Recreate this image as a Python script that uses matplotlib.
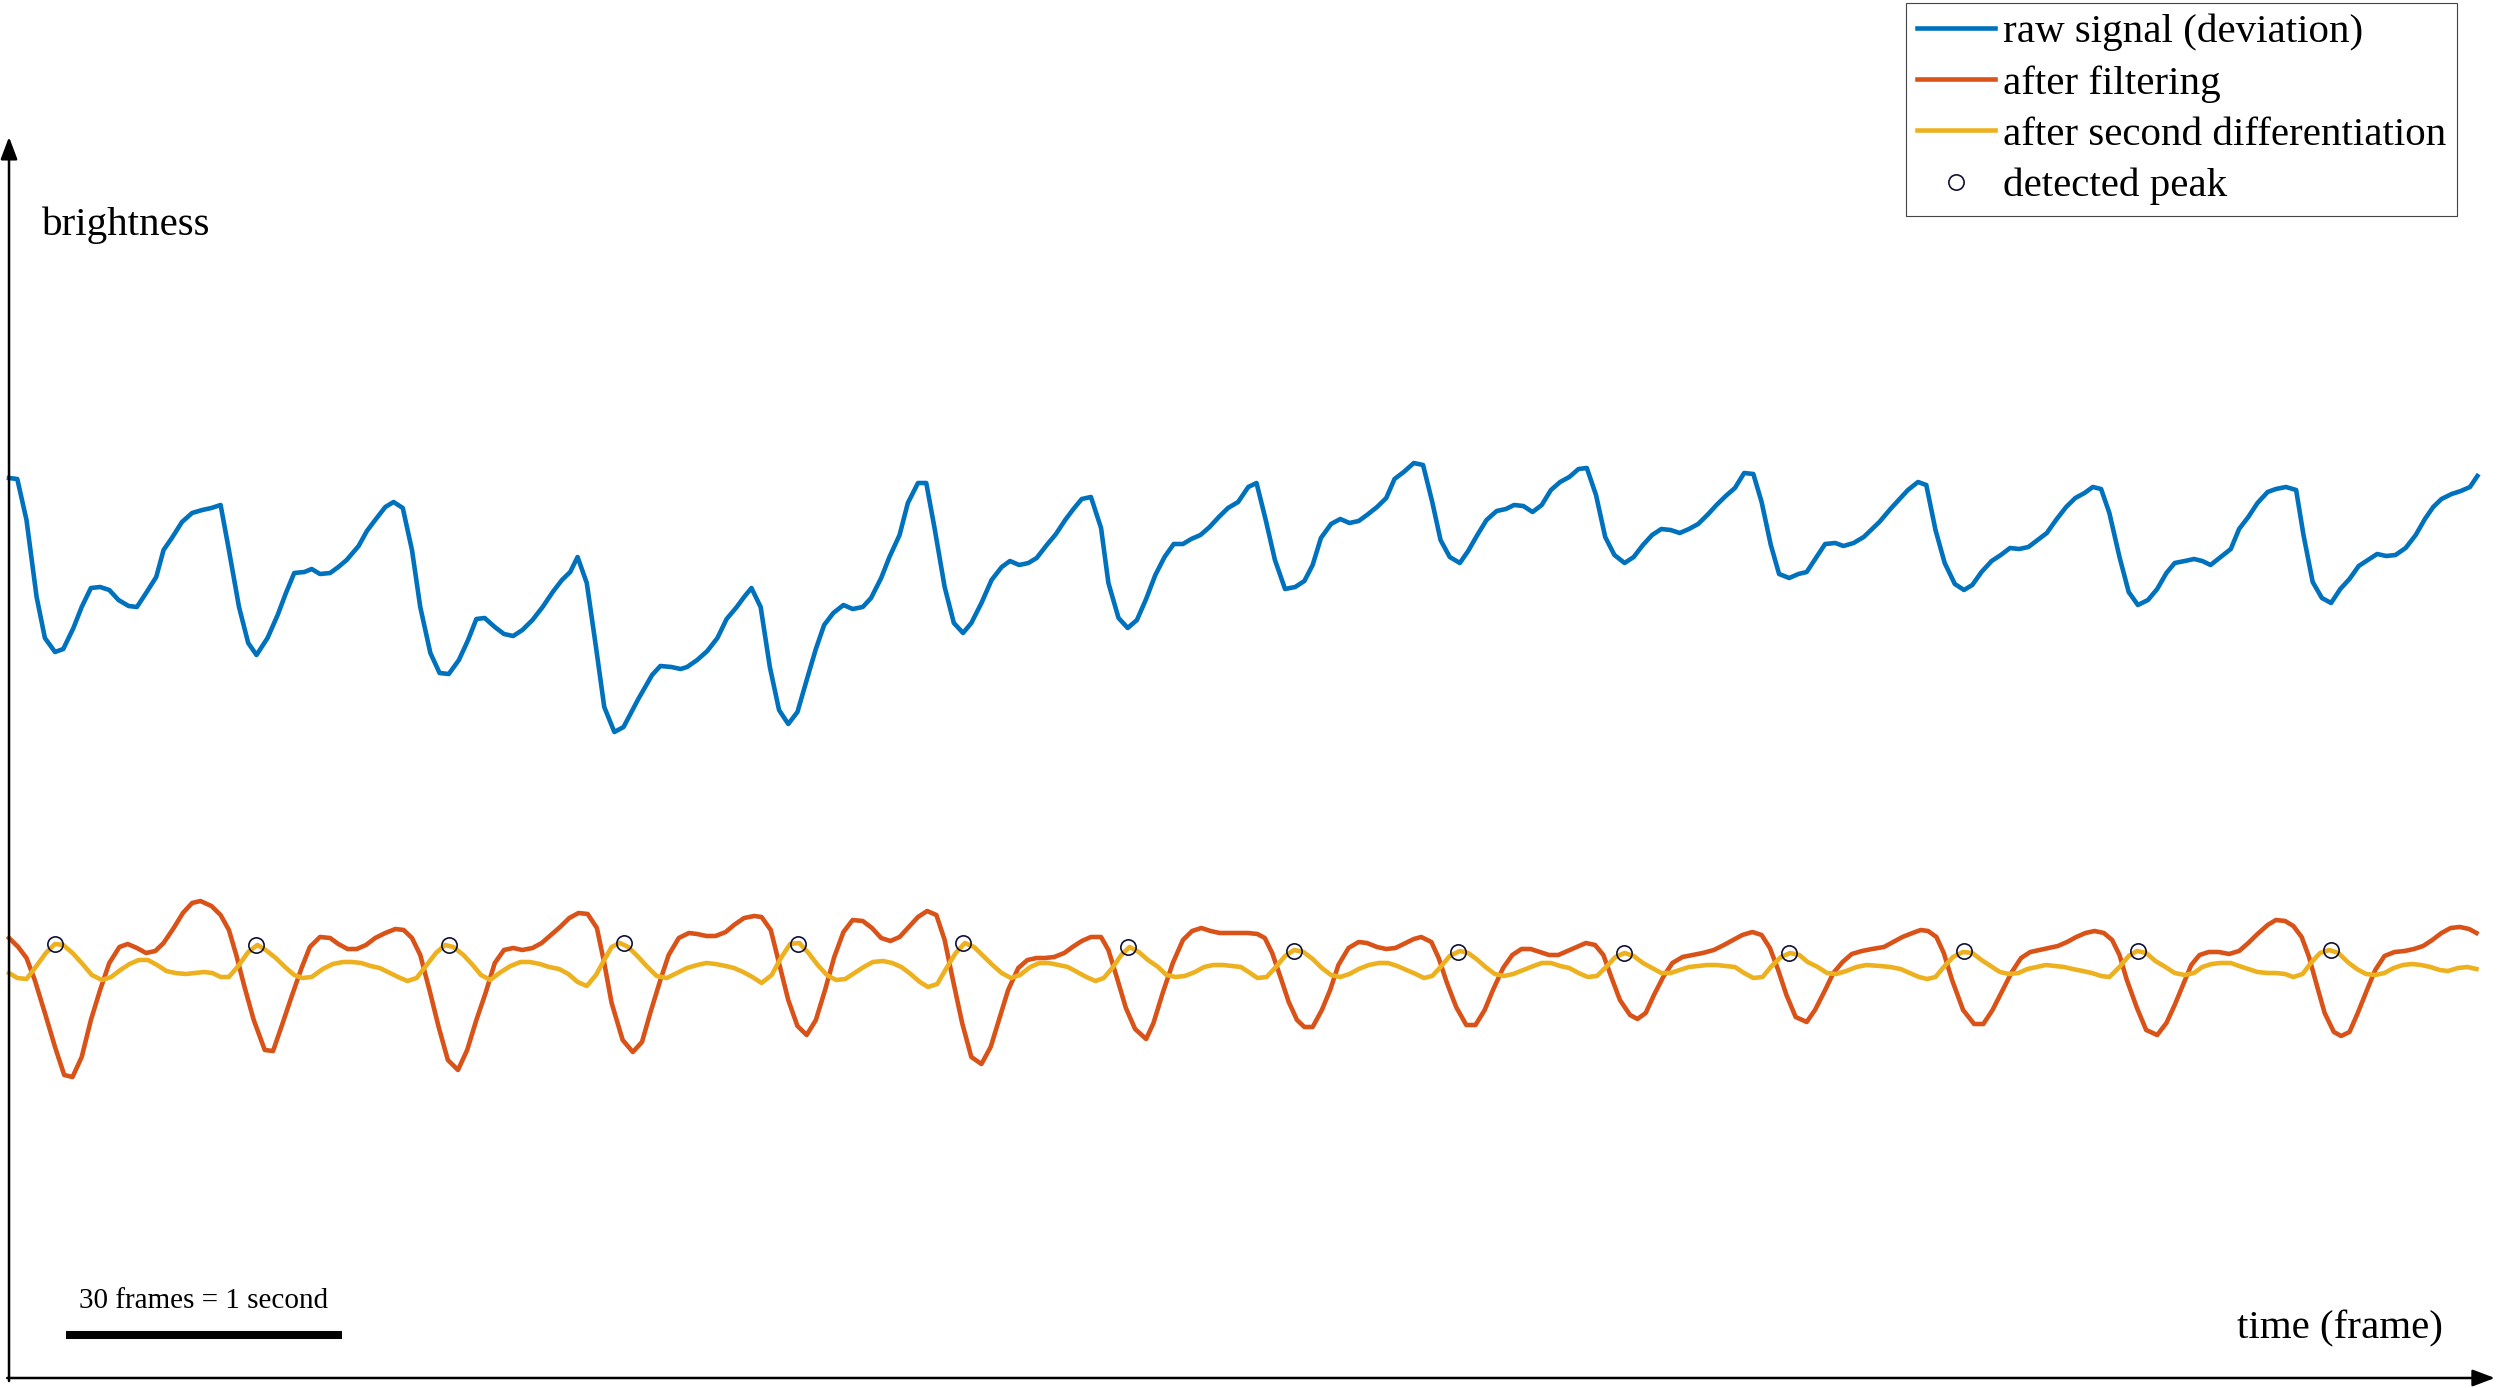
import numpy as np
import matplotlib.pyplot as plt

plt.rcParams['font.family'] = ['Liberation Serif', 'DejaVu Serif']

# frames (x) and brightness (y, arbitrary units)
raw_x = [0.0, 0.9, 1.9, 3.0, 3.9, 5.0, 5.9, 7.0, 7.9, 8.9, 9.9, 10.9, 11.9, 13.0, 13.9, 14.9, 16.0, 16.8, 17.7, 18.8,
         19.9, 21.0, 22.0, 23.0, 23.9, 25.0, 26.0, 26.9, 28.1, 29.2, 30.1, 31.0, 32.1, 32.9, 33.8, 34.9, 35.8, 36.7,
         38.0, 38.9, 39.8, 40.9, 41.8, 42.8, 43.8, 44.7, 45.8, 46.8, 47.8, 48.9, 49.9, 50.8, 51.7, 52.8, 53.8, 54.8,
         55.8, 56.9, 58.0, 59.1, 60.1, 61.0, 61.8, 62.8, 63.8, 64.7, 65.8, 66.8, 68.4, 69.9, 70.8, 72.0, 73.0, 73.7,
         74.8, 75.9, 77.0, 78.0, 79.1, 79.9, 80.7, 81.7, 82.7, 83.7, 84.7, 85.7, 86.8, 87.7, 88.6, 89.6, 90.7, 91.7,
         92.8, 93.7, 94.8, 95.7, 96.8, 97.7, 98.8, 99.7, 100.6, 101.7, 102.7, 103.7, 104.6, 105.7, 106.8, 107.9,
         108.8, 109.8, 110.8, 111.7, 112.8, 113.8, 114.8, 115.7, 116.6, 117.6, 118.7, 119.5, 120.6, 121.6, 122.6,
         123.6, 124.6, 125.6, 126.6, 127.6, 128.5, 129.5, 130.5, 131.5, 132.5, 133.6, 134.7, 135.6, 136.6, 137.6,
         138.7, 139.8, 140.8, 141.7, 142.6, 143.7, 144.7, 145.7, 146.7, 147.6, 148.7, 149.7, 150.6, 151.6, 152.7,
         153.7, 154.7, 155.6, 156.6, 157.7, 158.6, 159.6, 160.6, 161.7, 162.7, 163.6, 164.6, 165.6, 166.6, 167.6,
         168.6, 169.6, 170.6, 171.5, 172.5, 173.5, 174.5, 175.6, 176.6, 177.6, 178.6, 179.6, 180.6, 181.6, 182.6,
         183.6, 184.6, 185.6, 186.6, 187.6, 188.6, 189.6, 190.5, 191.5, 192.4, 193.5, 194.5, 195.4, 196.4, 197.4,
         198.5, 199.4, 200.5, 201.6, 203.3, 204.5, 205.5, 206.4, 207.5, 208.4, 209.4, 210.4, 211.5, 212.5, 213.4,
         214.4, 215.5, 216.5, 217.5, 218.5, 219.5, 220.5, 221.5, 222.5, 223.6, 224.6, 225.6, 226.5, 227.4, 228.3,
         229.4, 230.4, 231.4, 232.5, 233.5, 234.5, 235.4, 236.5, 237.5, 238.4, 239.3, 240.4, 241.5, 242.4, 243.4,
         244.4, 245.5, 246.4, 247.5, 248.6, 249.4, 250.4, 251.4, 252.4, 253.4, 254.4, 255.4, 256.4, 257.4, 258.4,
         259.4, 260.5, 261.6, 262.6, 263.5, 264.4, 265.5, 266.5, 267.5, 268.3]
raw_y = [90.1, 90.0, 85.9, 78.2, 74.1, 72.7, 73.0, 75.1, 77.2, 79.1, 79.2, 78.9, 77.9, 77.3, 77.2, 78.6, 80.2, 82.9,
         84.1, 85.7, 86.6, 86.9, 87.1, 87.4, 82.9, 77.2, 73.6, 72.4, 74.1, 76.4, 78.6, 80.6, 80.7, 81.0, 80.5, 80.6,
         81.2, 81.9, 83.3, 84.8, 85.9, 87.2, 87.7, 87.1, 82.9, 77.2, 72.6, 70.6, 70.5, 71.9, 73.9, 76.0, 76.1, 75.2,
         74.5, 74.3, 74.9, 75.9, 77.2, 78.7, 79.9, 80.7, 82.2, 79.6, 73.2, 67.2, 64.7, 65.2, 68.0, 70.4, 71.3, 71.2,
         71.0, 71.2, 71.9, 72.8, 74.1, 76.0, 77.2, 78.2, 79.1, 77.2, 71.2, 66.9, 65.5, 66.7, 70.2, 73.0, 75.4, 76.6,
         77.4, 77.0, 77.2, 78.1, 80.1, 82.2, 84.4, 87.6, 89.6, 89.6, 85.1, 79.2, 75.6, 74.6, 75.6, 77.6, 79.9, 81.2,
         81.8, 81.4, 81.6, 82.1, 83.4, 84.5, 85.9, 87.0, 88.0, 88.2, 85.1, 79.6, 76.1, 75.1, 75.9, 78.0, 80.4, 82.2,
         83.5, 83.5, 84.0, 84.4, 85.2, 86.2, 87.1, 87.7, 89.2, 89.6, 85.9, 81.9, 79.0, 79.2, 79.8, 81.4, 84.1, 85.5,
         86.0, 85.6, 85.8, 86.4, 87.2, 88.1, 90.0, 90.7, 91.6, 91.4, 87.7, 83.9, 82.2, 81.6, 82.8, 84.4, 85.9, 86.8,
         87.0, 87.4, 87.3, 86.7, 87.4, 88.9, 89.7, 90.2, 91.0, 91.1, 88.4, 84.2, 82.4, 81.6, 82.2, 83.4, 84.4, 85.0,
         84.9, 84.6, 85.0, 85.5, 86.4, 87.4, 88.3, 89.1, 90.6, 90.5, 87.7, 83.4, 80.5, 80.1, 80.5, 80.7, 82.1, 83.5,
         83.6, 83.3, 83.6, 84.2, 85.7, 87.0, 88.0, 88.9, 89.7, 89.4, 84.9, 81.6, 79.5, 78.9, 79.4, 80.7, 81.8, 82.4,
         83.1, 83.0, 83.2, 83.9, 84.6, 85.9, 87.2, 88.1, 88.6, 89.2, 89.0, 86.6, 82.2, 78.7, 77.4, 77.9, 79.0, 80.6,
         81.6, 81.8, 82.0, 81.8, 81.4, 82.2, 83.0, 85.0, 86.2, 87.6, 88.7, 89.0, 89.2, 88.9, 84.4, 79.7, 78.1, 77.6,
         79.0, 80.0, 81.3, 81.9, 82.5, 82.3, 82.4, 83.1, 84.4, 86.0, 87.2, 88.0, 88.5, 88.8, 89.2, 90.3]

filt_x = [0.0, 1.0, 1.9, 2.8, 3.9, 5.0, 6.0, 6.9, 7.9, 8.9, 9.9, 10.9, 12.0, 12.9, 13.9, 14.9, 15.9, 16.8, 17.9, 18.9,
          19.9, 20.8, 22.0, 23.0, 23.9, 24.7, 25.6, 26.6, 27.8, 28.7, 29.6, 30.7, 31.8, 32.7, 33.8, 34.9, 35.8, 36.8,
          37.8, 38.8, 39.8, 40.9, 42.0, 42.9, 43.8, 44.7, 45.7, 46.7, 47.7, 48.8, 49.8, 50.8, 51.8, 52.8, 53.8, 54.8,
          55.8, 56.9, 57.9, 58.9, 59.9, 60.9, 61.9, 62.9, 63.9, 64.7, 65.5, 66.7, 67.8, 68.8, 69.7, 70.8, 71.7, 72.8,
          73.9, 74.8, 75.8, 76.8, 77.9, 78.8, 79.9, 81.0, 81.8, 82.8, 83.7, 84.7, 85.7, 86.7, 87.7, 88.7, 89.7, 90.7,
          91.7, 92.8, 93.8, 94.8, 95.8, 96.8, 97.8, 98.8, 99.8, 100.8, 101.7, 102.6, 103.6, 104.6, 105.7, 106.7,
          107.7, 108.6, 109.7, 110.7, 111.7, 112.6, 113.6, 114.7, 115.6, 116.6, 117.6, 118.7, 119.5, 120.4, 121.4,
          122.4, 123.6, 124.4, 125.4, 126.5, 127.6, 128.6, 129.6, 130.6, 131.6, 132.6, 133.6, 134.7, 135.7, 136.5,
          137.3, 138.2, 139.1, 140.0, 140.8, 141.7, 142.7, 143.6, 144.5, 145.6, 146.7, 147.6, 148.7, 149.7, 150.7,
          151.6, 152.7, 153.5, 154.6, 155.4, 156.3, 157.3, 158.4, 159.4, 160.4, 161.3, 162.4, 163.4, 164.4, 165.4,
          166.4, 167.4, 168.4, 169.4, 170.4, 171.4, 172.4, 173.3, 174.2, 175.1, 176.2, 177.0, 177.9, 178.8, 179.8,
          180.8, 181.9, 183.0, 184.1, 185.3, 186.4, 187.4, 188.4, 189.5, 190.5, 191.4, 192.3, 193.2, 194.2, 195.4,
          196.3, 197.3, 198.3, 199.3, 200.3, 201.4, 202.5, 203.8, 204.8, 205.8, 206.9, 207.8, 208.6, 209.5, 210.3,
          211.2, 212.4, 213.6, 214.6, 215.6, 216.6, 217.7, 218.7, 219.7, 220.7, 221.7, 222.7, 223.7, 224.7, 225.7,
          226.7, 227.7, 228.6, 229.4, 230.2, 231.3, 232.3, 233.5, 234.5, 235.4, 236.3, 237.2, 238.1, 239.1, 240.2,
          241.3, 242.4, 243.4, 244.4, 245.5, 246.4, 247.4, 248.3, 249.2, 250.0, 250.9, 251.7, 252.7, 253.5, 254.4,
          255.3, 256.3, 257.2, 258.2, 259.3, 260.4, 261.4, 262.4, 263.4, 264.4, 265.4, 266.4, 267.4, 268.2]
filt_y = [44.1, 43.2, 42.1, 39.9, 36.6, 33.2, 30.4, 30.2, 32.2, 35.9, 38.9, 41.6, 43.2, 43.5, 43.1, 42.6, 42.8, 43.6,
          45.1, 46.6, 47.6, 47.8, 47.3, 46.4, 44.9, 42.4, 39.2, 35.9, 32.9, 32.8, 35.2, 38.2, 41.1, 43.2, 44.2, 44.1,
          43.5, 43.0, 43.0, 43.4, 44.1, 44.6, 45.0, 44.9, 44.1, 42.4, 38.9, 35.2, 31.9, 30.9, 32.9, 35.9, 38.6, 41.6,
          42.9, 43.1, 42.9, 43.1, 43.6, 44.4, 45.2, 46.1, 46.6, 46.5, 45.1, 41.6, 37.6, 33.9, 32.7, 33.7, 36.6, 39.9,
          42.4, 44.1, 44.6, 44.5, 44.3, 44.3, 44.7, 45.4, 46.1, 46.3, 46.2, 44.9, 41.6, 37.9, 35.3, 34.4, 35.9, 38.9,
          42.2, 44.7, 45.9, 45.8, 45.1, 44.1, 43.8, 44.2, 45.2, 46.2, 46.8, 46.4, 43.9, 39.9, 35.6, 32.2, 31.5, 33.2,
          36.2, 38.9, 41.1, 41.9, 42.1, 42.1, 42.2, 42.6, 43.2, 43.8, 44.2, 44.2, 42.9, 40.2, 37.1, 35.0, 34.0, 35.6,
          38.6, 41.6, 43.9, 44.8, 45.1, 44.8, 44.6, 44.6, 44.6, 44.6, 44.5, 44.1, 42.6, 40.2, 37.7, 35.9, 35.2, 35.2,
          36.9, 38.9, 41.4, 43.1, 43.7, 43.6, 43.2, 43.0, 43.1, 43.5, 44.0, 44.2, 43.7, 42.1, 39.6, 37.2, 35.4, 35.4,
          36.9, 38.9, 41.1, 42.4, 43.0, 43.0, 42.7, 42.4, 42.4, 42.8, 43.2, 43.6, 43.4, 42.4, 40.1, 37.9, 36.4, 36.0,
          36.6, 38.4, 40.2, 41.6, 42.2, 42.4, 42.6, 42.9, 43.4, 43.9, 44.4, 44.7, 44.4, 43.1, 40.9, 38.4, 36.2, 35.7,
          36.9, 38.7, 40.6, 41.7, 42.5, 42.8, 43.0, 43.2, 43.7, 44.2, 44.6, 44.9, 44.8, 44.2, 42.6, 39.9, 36.9, 35.5,
          35.5, 36.9, 38.7, 40.7, 42.1, 42.7, 42.9, 43.1, 43.3, 43.7, 44.2, 44.6, 44.8, 44.6, 43.9, 42.4, 39.9, 37.1,
          34.9, 34.4, 35.6, 37.4, 39.4, 41.4, 42.4, 42.7, 42.7, 42.5, 42.8, 43.6, 44.5, 45.4, 45.9, 45.8, 45.3, 44.2,
          42.2, 39.2, 36.6, 34.7, 34.3, 34.7, 36.6, 38.9, 40.9, 42.3, 42.7, 42.8, 43.0, 43.3, 43.9, 44.6, 45.1, 45.2,
          45.0, 44.6]

diff2_x = [0.0, 0.9, 1.9, 2.9, 4.0, 5.0, 5.9, 6.9, 7.9, 9.0, 10.1, 11.1, 12.1, 13.1, 14.1, 15.1, 16.1, 17.1, 18.1,
           19.2, 20.2, 21.2, 22.1, 23.0, 23.9, 25.0, 26.0, 27.0, 27.9, 29.0, 30.0, 31.0, 31.9, 32.9, 34.1, 35.2, 36.3,
           37.3, 38.3, 39.3, 40.3, 41.2, 42.3, 43.3, 44.3, 45.4, 46.4, 47.4, 48.3, 49.4, 50.4, 51.3, 52.3, 53.3, 54.5,
           55.6, 56.6, 57.7, 58.7, 59.8, 60.8, 61.8, 62.8, 63.8, 64.7, 65.5, 66.4, 67.3, 68.3, 69.3, 70.4, 71.5, 72.6,
           73.7, 74.8, 75.8, 76.8, 77.9, 78.8, 79.8, 80.8, 81.8, 82.9, 83.9, 84.9, 85.9, 86.9, 87.9, 88.9, 89.9, 90.9,
           91.9, 92.9, 93.9, 95.0, 96.0, 97.0, 98.0, 99.0, 99.9, 100.9, 101.9, 102.9, 103.9, 104.9, 105.9, 106.9,
           107.9, 108.9, 109.9, 111.0, 112.0, 113.0, 114.1, 115.1, 116.1, 117.1, 118.1, 119.0, 120.0, 120.9, 121.8,
           122.8, 123.8, 124.9, 125.8, 126.8, 127.8, 128.9, 129.9, 130.9, 132.0, 132.9, 133.9, 134.9, 135.7, 136.7,
           137.7, 138.7, 139.7, 140.7, 141.7, 142.7, 143.7, 144.7, 145.7, 146.7, 147.8, 148.9, 149.9, 150.9, 151.9,
           152.9, 153.8, 154.7, 155.6, 156.6, 157.7, 158.6, 159.5, 160.5, 161.5, 162.5, 163.5, 164.6, 165.7, 166.6,
           167.6, 168.6, 169.6, 170.6, 171.6, 172.6, 173.6, 174.6, 175.6, 176.6, 177.6, 178.6, 179.6, 180.6, 181.6,
           182.6, 183.6, 184.6, 185.6, 186.6, 187.6, 188.6, 189.6, 190.6, 191.5, 192.6, 193.6, 194.6, 195.5, 196.6,
           197.6, 198.6, 199.7, 200.8, 201.9, 203.4, 204.5, 205.6, 206.6, 207.6, 208.5, 209.4, 210.3, 211.3, 212.4,
           213.4, 214.4, 215.4, 216.4, 217.4, 218.4, 219.4, 220.4, 221.4, 222.4, 223.4, 224.3, 225.4, 226.4, 227.4,
           228.3, 229.4, 230.4, 231.3, 232.3, 233.3, 234.4, 235.4, 236.5, 237.5, 238.4, 239.4, 240.4, 241.5, 242.4,
           243.4, 244.4, 245.5, 246.4, 247.4, 248.3, 249.3, 250.2, 251.2, 252.2, 253.2, 254.2, 255.2, 256.2, 257.2,
           258.2, 259.2, 260.2, 261.2, 262.2, 263.2, 264.2, 265.1, 266.2, 267.2, 268.2]
diff2_y = [40.6, 40.1, 40.0, 41.2, 42.6, 43.5, 43.4, 42.6, 41.6, 40.4, 39.9, 40.2, 40.9, 41.5, 41.9, 41.9, 41.4, 40.8,
           40.6, 40.5, 40.6, 40.7, 40.6, 40.2, 40.2, 41.4, 42.7, 43.4, 42.9, 42.1, 41.2, 40.4, 40.1, 40.2, 41.0, 41.5,
           41.7, 41.7, 41.6, 41.3, 41.1, 40.7, 40.2, 39.8, 40.1, 41.4, 42.6, 43.4, 43.2, 42.4, 41.4, 40.4, 39.9, 40.6,
           41.3, 41.7, 41.7, 41.5, 41.2, 41.0, 40.5, 39.7, 39.3, 40.4, 41.9, 43.2, 43.6, 43.2, 42.3, 41.3, 40.3, 40.1,
           40.6, 41.1, 41.4, 41.6, 41.5, 41.3, 41.1, 40.7, 40.2, 39.6, 40.4, 42.1, 43.5, 43.6, 42.6, 41.4, 40.4, 39.9,
           40.0, 40.6, 41.2, 41.7, 41.8, 41.6, 41.2, 40.5, 39.7, 39.2, 39.5, 41.1, 42.6, 43.6, 43.2, 42.3, 41.4, 40.6,
           40.1, 40.4, 41.2, 41.6, 41.6, 41.4, 41.2, 40.7, 40.2, 39.8, 40.1, 41.2, 42.4, 43.2, 42.7, 41.9, 41.2, 40.4,
           40.2, 40.3, 40.7, 41.2, 41.4, 41.4, 41.3, 41.2, 40.6, 40.1, 40.2, 41.2, 42.3, 42.9, 42.7, 42.0, 41.1, 40.4,
           40.2, 40.5, 41.0, 41.4, 41.6, 41.6, 41.3, 40.9, 40.5, 40.1, 40.3, 41.2, 42.3, 42.8, 42.6, 42.0, 41.2, 40.5,
           40.3, 40.5, 40.9, 41.3, 41.6, 41.6, 41.3, 41.1, 40.6, 40.2, 40.3, 41.2, 42.2, 42.6, 42.3, 41.6, 41.1, 40.6,
           40.6, 40.9, 41.2, 41.3, 41.4, 41.4, 41.3, 41.2, 40.6, 40.1, 40.2, 41.2, 42.2, 42.6, 42.4, 41.7, 41.2, 40.6,
           40.5, 40.8, 41.2, 41.4, 41.3, 41.2, 41.0, 40.6, 40.2, 40.0, 40.2, 41.2, 42.2, 42.7, 42.6, 41.9, 41.3, 40.7,
           40.5, 40.6, 41.0, 41.2, 41.4, 41.3, 41.2, 41.0, 40.8, 40.6, 40.3, 40.2, 41.2, 42.3, 42.8, 42.6, 41.8, 41.2,
           40.6, 40.4, 40.6, 41.2, 41.5, 41.6, 41.6, 41.3, 41.0, 40.7, 40.6, 40.6, 40.5, 40.2, 40.5, 41.6, 42.6, 42.9,
           42.6, 41.7, 41.0, 40.5, 40.4, 40.6, 41.1, 41.4, 41.5, 41.4, 41.2, 40.9, 40.8, 41.1, 41.2, 41.0]

peak_x = [5.0, 26.8, 47.8, 66.8, 85.8, 103.7, 121.6, 139.7, 157.5, 175.5, 193.5, 212.5, 231.4, 252.4]
peak_y = [43.5, 43.4, 43.4, 43.6, 43.5, 43.6, 43.2, 42.8, 42.7, 42.6, 42.6, 42.8, 42.8, 42.9]

labels = ["raw signal (deviation)", "after filtering", "after second differentiation", "detected peak"]
colors = ["#0072BD", "#D95319", "#EDB120"]

fig = plt.figure(figsize=(25, 13.88), dpi=100)
ax = fig.add_axes([0, 0, 1, 1])
ax.set_xlim(-0.98, 270.76)
ax.set_ylim(-0.9, 137.9)
ax.axis('off')

ax.plot(raw_x, raw_y, color=colors[0], lw=3.3, label=labels[0])
ax.plot(filt_x, filt_y, color=colors[1], lw=3.3, label=labels[1])
ax.plot(diff2_x, diff2_y, color=colors[2], lw=3.3, label=labels[2])
ax.plot(peak_x, peak_y, 'o', ms=11, mfc='none', mec='#111133', mew=1.2, label=labels[3])

# axis arrows
arrow = dict(arrowstyle='-|>,head_length=0.45,head_width=0.17', lw=1.8, color='k',
             mutation_scale=30, shrinkA=0, shrinkB=0)
ax.annotate('', xy=(0, 124.2), xytext=(0, -0.2), arrowprops=arrow)
ax.annotate('', xy=(270.2, 0.1), xytext=(-0.2, 0.1), arrowprops=arrow)

ax.text(3.6, 114.4, "brightness", fontsize=29.5, ha='left', va='baseline')
ax.text(264.6, 4.1, "time (frame)", fontsize=29.5, ha='right', va='baseline')

# scale bar
sb_x0 = 6.2
ax.plot([sb_x0, sb_x0 + 30], [4.4, 4.4], color='k', lw=5.8, solid_capstyle='butt')
ax.text(sb_x0 + 15, 7.1, "30 frames = 1 second", fontsize=21, ha='center', va='baseline')

leg = ax.legend(loc='upper right', bbox_to_anchor=(0.9828, 0.9978), borderaxespad=0,
                fontsize=29.5, handlelength=1.9, handletextpad=0.2, borderpad=0.26,
                labelspacing=0.33, fancybox=False, framealpha=1, edgecolor='#444444')
leg.get_frame().set_linewidth(0.8)

fig.savefig("out.png", dpi=100)
